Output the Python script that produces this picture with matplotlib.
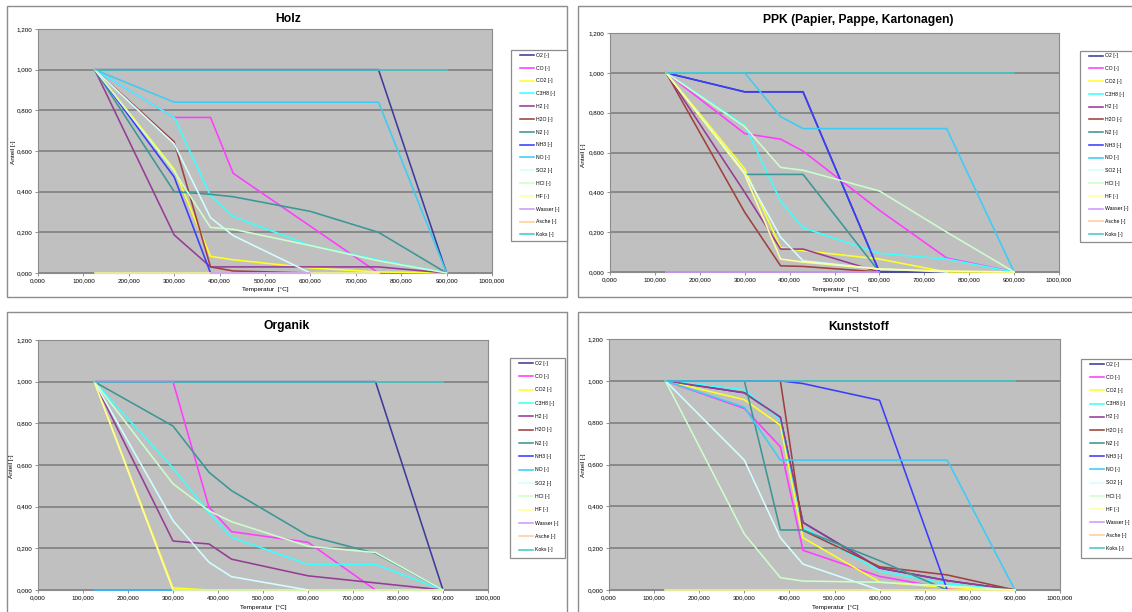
import numpy as np
import matplotlib
matplotlib.use("Agg")
import matplotlib.pyplot as plt
from matplotlib.patches import Rectangle

nan = np.nan

# ---------------- data ----------------
T = [125, 300, 380, 430, 600, 750, 900]   # Temperatur [°C]

SERIES = ["O2 [-]", "CO [-]", "CO2 [-]", "C3H8 [-]", "H2 [-]", "H2O [-]", "N2 [-]",
          "NH3 [-]", "NO [-]", "SO2 [-]", "HCl [-]", "HF [-]", "Wasser [-]",
          "Asche [-]", "Koks [-]"]
COLORS = ["#3c3c9c", "#ff3cff", "#ffff28", "#3cffff", "#963c96", "#a04040", "#3c9696",
          "#3c3cff", "#3cccf5", "#d2ffff", "#ccffcc", "#ffff99", "#cc99ff",
          "#ffcc99", "#46c8c8"]

holz = {
    "O2 [-]":     [1, 1, 1, 1, 1, 1, 0],
    "CO [-]":     [1, 0.765, 0.765, 0.49, 0.23, 0, 0],
    "CO2 [-]":    [1, 0.51, 0.082, 0.065, 0.025, 0.005, 0],
    "C3H8 [-]":   [1, 0.765, 0.38, 0.278, 0.135, 0.065, 0],
    "H2 [-]":     [1, 0.187, 0.03, 0.03, 0.03, 0.03, 0],
    "H2O [-]":    [1, 0.645, 0.03, 0.01, 0, nan, nan],
    "N2 [-]":     [1, 0.40, 0.387, 0.375, 0.303, 0.20, 0],
    "NH3 [-]":    [1, 0.472, 0, nan, nan, nan, nan],
    "NO [-]":     [1, 0.84, 0.84, 0.84, 0.84, 0.84, 0],
    "SO2 [-]":    [1, 0.635, 0.272, 0.184, 0, nan, nan],
    "HCl [-]":    [1, 0.50, 0.224, 0.215, 0.135, 0.06, 0],
    "HF [-]":     [0, 0, 0, 0, 0, 0, nan],
    "Wasser [-]": [nan, nan, 0, 0, 0, nan, nan],
    "Asche [-]":  [nan, nan, nan, nan, nan, nan, nan],
    "Koks [-]":   [1, 1, 1, 1, 1, 1, 1],
}

ppk = {
    "O2 [-]":     [1, 0.905, 0.905, 0.905, 0, 0, 0],
    "CO [-]":     [1, 0.695, 0.667, 0.607, 0.31, 0.07, 0],
    "CO2 [-]":    [1, 0.518, 0.123, 0.107, 0.065, 0, 0],
    "C3H8 [-]":   [1, 0.737, 0.355, 0.222, 0.094, 0.065, 0],
    "H2 [-]":     [1, 0.40, 0.115, 0.115, 0, nan, nan],
    "H2O [-]":    [1, 0.30, 0.031, 0.028, 0, nan, nan],
    "N2 [-]":     [1, 0.49, 0.49, 0.49, 0, nan, nan],
    "NH3 [-]":    [1, 0.904, 0.904, 0.904, 0, nan, nan],
    "NO [-]":     [1, 1, 0.78, 0.72, 0.72, 0.72, 0],
    "SO2 [-]":    [1, 0.50, 0.175, 0.056, 0.015, 0, nan],
    "HCl [-]":    [1, 0.73, 0.525, 0.511, 0.407, 0.20, 0],
    "HF [-]":     [1, 0.49, 0.065, 0.05, 0.015, 0.005, 0],
    "Wasser [-]": [0, 0, 0, 0, 0, nan, nan],
    "Asche [-]":  [nan, nan, nan, nan, nan, nan, nan],
    "Koks [-]":   [1, 1, 1, 1, 1, 1, 1],
}

organik = {
    "O2 [-]":     [1, 1, 1, 1, 1, 1, 0],
    "CO [-]":     [1, 1, 0.397, 0.28, 0.229, 0, nan],
    "CO2 [-]":    [1, 0.01, 0, 0, 0, 0, 0],
    "C3H8 [-]":   [1, 0.585, 0.37, 0.253, 0.123, 0.123, 0],
    "H2 [-]":     [1, 0.235, 0.221, 0.148, 0.068, 0.034, 0],
    "H2O [-]":    [0, 0, 0, 0, 0, 0, 0],
    "N2 [-]":     [1, 0.787, 0.565, 0.477, 0.261, 0.176, 0],
    "NH3 [-]":    [0, 0, 0, 0, 0, 0, 0],
    "NO [-]":     [0, 0, 0, 0, 0, 0, 0],
    "SO2 [-]":    [1, 0.333, 0.133, 0.064, 0, nan, nan],
    "HCl [-]":    [1, 0.51, 0.38, 0.328, 0.21, 0.18, 0],
    "HF [-]":     [1, 0, 0, 0, 0, 0, 0],
    "Wasser [-]": [nan, nan, nan, nan, nan, nan, nan],
    "Asche [-]":  [nan, nan, nan, nan, nan, nan, nan],
    "Koks [-]":   [1, 1, 1, 1, 1, 1, 1],
}

kunststoff = {
    "O2 [-]":     [1, 0.943, 0.826, 0.323, 0.105, 0.045, 0],
    "CO [-]":     [1, 0.868, 0.685, 0.19, 0.065, 0.008, 0],
    "CO2 [-]":    [1, 0.91, 0.788, 0.25, 0.038, 0.012, 0],
    "C3H8 [-]":   [1, 0.958, 0.815, 0.30, 0.09, 0.03, 0],
    "H2 [-]":     [1, 0.943, 0.826, 0.323, 0.105, 0.045, 0],
    "H2O [-]":    [1, 1, 1, 0.285, 0.111, 0.072, 0],
    "N2 [-]":     [1, 1, 0.287, 0.287, 0.14, 0, nan],
    "NH3 [-]":    [1, 1, 1, 0.987, 0.907, 0, nan],
    "NO [-]":     [1, 0.874, 0.621, 0.621, 0.621, 0.621, 0],
    "SO2 [-]":    [1, 0.621, 0.25, 0.124, 0, nan, nan],
    "HCl [-]":    [1, 0.268, 0.059, 0.043, 0.037, 0.02, 0],
    "HF [-]":     [0, 0, 0, 0, 0, 0, 0],
    "Wasser [-]": [nan, nan, nan, nan, nan, nan, nan],
    "Asche [-]":  [nan, nan, nan, nan, nan, nan, nan],
    "Koks [-]":   [1, 1, 1, 1, 1, 1, 1],
}

TITLES = ["Holz", "PPK (Papier, Pappe, Kartonagen)", "Organik", "Kunststoff"]
XTICKS = list(range(0, 1001, 100))
YTICKS = [0.0, 0.2, 0.4, 0.6, 0.8, 1.0, 1.2]

# ---------------- layout (pixels) ----------------
W, H = 1132, 612
plt.rcParams['font.family'] = ['Liberation Sans', 'DejaVu Sans']
fig = plt.figure(figsize=(W / 100, H / 100), dpi=100)
fig.patch.set_facecolor("white")

LAYOUT = [
    dict(border=(7, 6, 567, 297), plot=(38, 29, 492, 273), leg=(510.5, 50, 567, 241),
         title=(288, 19), xlab=(265, 290), ylab=(13, 152), lsp=1.52),
    dict(border=(578, 6, 1140, 297), plot=(610, 33, 1059, 272), leg=(1079.5, 50.5, 1140, 242.5),
         title=(858, 20), xlab=(835, 290), ylab=(583, 155), lsp=1.51),
    dict(border=(7, 312, 567, 620), plot=(38, 340, 488, 590), leg=(509.5, 358, 565, 558),
         title=(287, 326), xlab=(263, 608), ylab=(12, 466), lsp=1.62),
    dict(border=(578, 312, 1140, 620), plot=(609, 339, 1060, 590), leg=(1080.5, 359, 1140, 558),
         title=(859, 327), xlab=(835, 608), ylab=(583, 465), lsp=1.59),
]
DATA = [holz, ppk, organik, kunststoff]


def fx(x):
    return x / W


def fy(y):
    return 1 - y / H


for title, data, lay in zip(TITLES, DATA, LAYOUT):
    bl, bt, br, bb = lay["border"]
    fig.patches.append(Rectangle((fx(bl), fy(bb)), fx(br) - fx(bl), fy(bt) - fy(bb),
                                 transform=fig.transFigure, fill=False,
                                 edgecolor="#8c8c8c", lw=1.0, zorder=-2))
    l, t, r, b = lay["plot"]
    ax = fig.add_axes([fx(l), fy(b), fx(r) - fx(l), fy(t) - fy(b)])
    ax.set_facecolor("#c0c0c0")
    ax.set_xlim(0, 1000)
    ax.set_ylim(0, 1.2)
    ax.set_xticks(XTICKS)
    ax.set_xticklabels([f"{v:.3f}".replace(".", ",") for v in XTICKS])
    ax.set_yticks(YTICKS)
    ax.set_yticklabels([f"{v:.3f}".replace(".", ",") for v in YTICKS])
    ax.tick_params(axis="both", labelsize=4.5, length=2.5, width=0.6,
                   color="#808080", pad=1.5, direction="out")
    ax.yaxis.grid(True, color="#808080", lw=1.2)
    ax.set_axisbelow(True)
    for sp in ax.spines.values():
        sp.set_color("#8c8c8c")
        sp.set_linewidth(0.8)

    for name, col in zip(SERIES, COLORS):
        ax.plot(T, data[name], color=col, lw=1.15, label=name, zorder=3, clip_on=False)

    fig.text(fx(lay["title"][0]), fy(lay["title"][1]), title, ha="center", va="center",
             fontsize=8.7, fontweight="bold")
    fig.text(fx(lay["xlab"][0]), fy(lay["xlab"][1]), "Temperatur  [°C]", ha="center",
             va="center", fontsize=4.6)
    fig.text(fx(lay["ylab"][0]), fy(lay["ylab"][1]), "Anteil [-]", ha="center",
             va="center", fontsize=4.6, rotation=90)

    ll, lt, lr, lb = lay["leg"]
    fig.patches.append(Rectangle((fx(ll), fy(lb)), fx(lr) - fx(ll), fy(lt) - fy(lb),
                                 transform=fig.transFigure, facecolor="white",
                                 edgecolor="#8c8c8c", lw=0.9, zorder=-1))
    ax.legend(loc="upper left", bbox_to_anchor=(fx(ll + 9), fy(lt + 2.8)),
              bbox_transform=fig.transFigure, frameon=False, fontsize=3.7,
              handlelength=2.8, handletextpad=0.35, labelspacing=lay["lsp"],
              borderpad=0, borderaxespad=0)

fig.savefig("out.png", dpi=100)
